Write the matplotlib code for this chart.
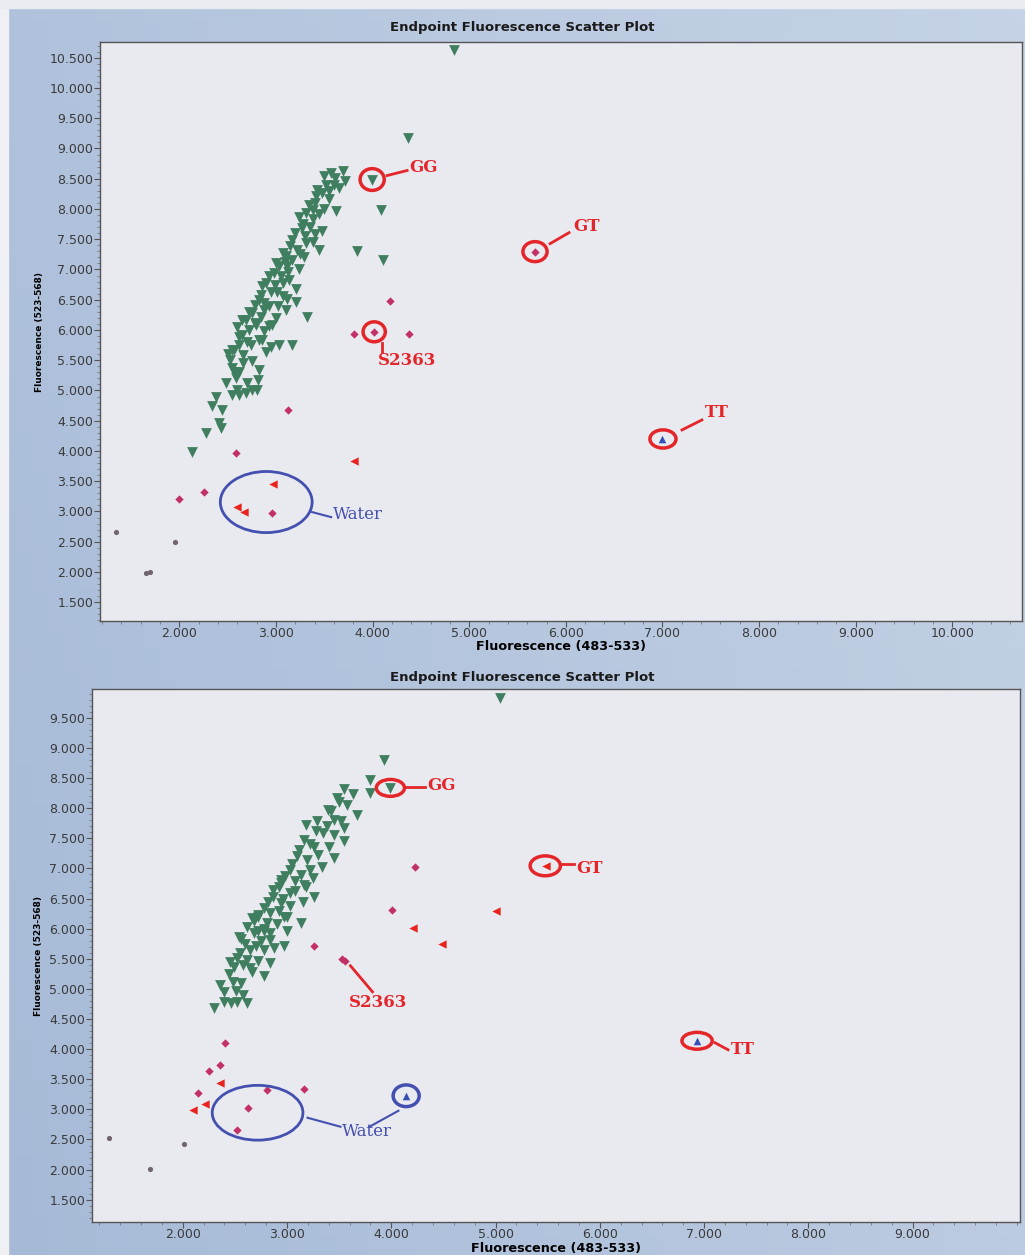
import numpy as np
import matplotlib
matplotlib.use("Agg")
import matplotlib.pyplot as plt
from matplotlib.patches import Ellipse, Rectangle
from matplotlib.colors import LinearSegmentedColormap
from matplotlib.ticker import FormatStrFormatter, AutoMinorLocator, MultipleLocator

# === Top panel data ===
top_green_x = [3.57, 3.69, 3.72, 3.52, 3.48, 3.62, 3.41, 3.31, 3.24, 3.38, 3.48, 3.17, 3.31, 3.45,
               3.07, 3.17, 3.03, 3.24, 2.93, 3.14, 2.86, 3.21, 3.21, 2.83, 2.93, 2.75, 3.32, 2.69,
               2.96, 2.65, 2.83, 3.03, 3.17, 2.55, 2.90, 2.65, 2.72, 2.93, 2.62, 2.86, 2.57, 2.52,
               2.75, 2.55, 2.83, 2.59, 2.81, 2.69, 2.55, 2.38, 2.34, 2.44, 2.41, 2.43, 2.28, 2.13,
               3.61, 3.43, 3.55, 3.34, 3.45, 3.27, 3.40, 3.22, 3.09, 2.99, 3.07, 2.88, 3.10, 2.79,
               3.29, 3.13, 3.01, 3.65, 2.74, 2.66, 2.62, 2.48, 2.62, 2.75,
               3.50, 3.60, 3.55, 3.40, 3.50, 3.38, 3.28, 3.35, 3.20, 3.30, 3.15, 3.25, 3.38, 3.10,
               3.00, 3.12, 2.98, 3.05, 2.90, 3.07, 2.95, 2.85, 3.12, 2.78, 2.88, 3.02, 2.72, 2.85,
               3.00, 2.78, 2.60, 2.88, 2.70, 2.95, 2.62, 2.50, 2.66, 2.58, 2.70, 2.60, 2.80,
               4.84, 4.37, 3.99, 4.09, 3.84, 4.11]
top_green_y = [8.60, 8.62, 8.46, 8.40, 8.27, 7.96, 8.21, 7.94, 7.86, 7.83, 7.63, 7.49, 7.44, 7.33,
               7.28, 7.16, 7.05, 7.00, 6.89, 6.83, 6.72, 6.67, 6.47, 6.50, 6.39, 6.28, 6.22, 6.17,
               6.09, 5.92, 5.84, 5.76, 5.76, 5.67, 5.64, 6.17, 6.00, 6.06, 5.89, 5.84, 5.67, 5.51,
               5.48, 5.37, 5.34, 5.21, 5.18, 4.96, 4.93, 4.90, 4.75, 4.68, 4.46, 4.38, 4.30, 3.99,
               8.51, 8.32, 8.16, 8.07, 7.91, 7.69, 7.58, 7.33, 7.13, 6.75, 6.57, 6.33, 6.33, 6.09,
               7.20, 6.96, 6.63, 8.35, 5.76, 5.59, 5.31, 5.13, 4.93, 5.01,
               8.55, 8.40, 8.30, 8.10, 8.00, 7.98, 7.75, 7.70, 7.60, 7.55, 7.38, 7.25, 7.45, 7.22,
               7.10, 7.05, 6.95, 6.90, 6.78, 6.78, 6.62, 6.58, 6.52, 6.42, 6.45, 6.40, 6.30, 6.22,
               6.20, 6.12, 6.05, 5.98, 5.80, 5.72, 5.76, 5.60, 5.45, 5.30, 5.12, 5.00, 5.00,
               10.62, 9.18, 8.48, 7.99, 7.30, 7.16]
top_mag_x = [4.18, 3.81, 4.02, 4.38, 3.13, 2.59, 2.26, 2.00, 2.96, 5.68]
top_mag_y = [6.48, 5.94, 5.97, 5.94, 4.68, 3.97, 3.33, 3.20, 2.98, 7.29]
top_red_x = [3.81, 2.97, 2.60, 2.67]
top_red_y = [3.84, 3.45, 3.08, 2.99]
top_gray_x = [1.35, 1.96, 1.66, 1.70]
top_gray_y = [2.66, 2.50, 1.98, 2.00]
top_blue_x = [7.00]
top_blue_y = [4.20]
top_xticks = [2, 3, 4, 5, 6, 7, 8, 9, 10]
top_yticks = [1.5, 2, 2.5, 3, 3.5, 4, 4.5, 5, 5.5, 6, 6.5, 7, 7.5, 8, 8.5, 9, 9.5, 10, 10.5]

# === Bottom panel data ===
bot_green_x = [3.55, 3.63, 3.48, 3.67, 3.39, 3.45, 3.55, 3.18, 3.29, 3.35, 3.55, 3.16, 3.26, 3.45,
               3.10, 3.19, 3.34, 3.03, 3.13, 2.94, 3.18, 2.87, 3.03, 3.26, 2.87, 2.94, 3.03, 2.72,
               2.84, 3.00, 3.13, 2.68, 2.81, 2.72, 2.84, 3.00, 2.54, 2.94, 3.16, 2.72, 2.97, 2.68,
               2.78, 2.56, 2.75, 2.84, 2.97, 2.65, 2.78, 2.52, 2.62, 2.72, 2.84, 2.49, 2.65, 2.78,
               2.36, 2.56, 2.51, 2.40, 2.52, 2.62, 2.30, 2.46,
               3.50, 3.58, 3.42, 3.52, 3.38, 3.28, 3.45, 3.22, 3.40, 3.12, 3.30, 3.05, 3.22, 2.98,
               3.08, 3.25, 2.92, 3.08, 2.82, 2.96, 3.15, 2.78, 2.92, 2.66, 2.90, 2.62, 2.78, 2.60,
               2.70, 2.88, 2.55, 2.45, 2.58, 2.44, 2.66, 2.48, 2.40, 2.58,
               5.04, 3.93, 3.80, 3.80, 3.99]
bot_green_y = [8.32, 8.24, 8.17, 7.89, 7.97, 7.81, 7.67, 7.72, 7.78, 7.59, 7.45, 7.48, 7.36, 7.17,
               7.20, 7.14, 7.03, 6.98, 6.89, 6.81, 6.70, 6.65, 6.59, 6.53, 6.53, 6.42, 6.37, 6.23,
               6.26, 6.20, 6.09, 6.12, 6.09, 5.96, 5.93, 5.96, 5.87, 6.76, 6.73, 6.20, 6.20, 5.93,
               5.96, 5.83, 5.79, 5.82, 5.71, 5.65, 5.65, 5.51, 5.48, 5.46, 5.43, 5.37, 5.35, 5.21,
               5.07, 5.10, 4.96, 4.79, 4.79, 4.77, 4.69, 4.77,
               8.10, 8.05, 7.95, 7.78, 7.70, 7.62, 7.55, 7.40, 7.35, 7.30, 7.22, 7.08, 6.98, 6.88,
               6.80, 6.85, 6.70, 6.62, 6.45, 6.50, 6.45, 6.35, 6.30, 6.18, 6.08, 6.02, 6.00, 5.75,
               5.72, 5.68, 5.60, 5.45, 5.40, 5.25, 5.28, 5.12, 4.95, 4.90,
               9.83, 8.80, 8.47, 8.25, 8.33]
bot_mag_x = [4.23, 4.01, 3.26, 3.53, 3.56, 2.41, 2.36, 2.25, 2.15, 2.63, 2.81, 3.16, 2.52]
bot_mag_y = [7.03, 6.31, 5.72, 5.50, 5.46, 4.11, 3.74, 3.64, 3.28, 3.03, 3.33, 3.34, 2.66]
bot_red_x = [5.48, 5.00, 4.21, 4.49, 2.36, 2.21, 2.10]
bot_red_y = [7.04, 6.30, 6.01, 5.74, 3.43, 3.09, 2.99]
bot_gray_x = [1.29, 2.01, 1.69]
bot_gray_y = [2.52, 2.43, 2.01]
bot_blue_x = [6.93, 4.14]
bot_blue_y = [4.14, 3.23]
bot_xticks = [2, 3, 4, 5, 6, 7, 8, 9]
bot_yticks = [1.5, 2, 2.5, 3, 3.5, 4, 4.5, 5, 5.5, 6, 6.5, 7, 7.5, 8, 8.5, 9, 9.5]

GREEN = '#3f7f5f'
MAGENTA = '#c23067'
RED = '#e8221c'
GRAY = '#6f6470'
BLUE = '#3550b5'
ANN_RED = '#e4262a'
ANN_BLUE = '#4350b0'
SERIF = ['DejaVu Serif']

fig = plt.figure(figsize=(10.25, 12.55), dpi=100)
fig.patch.set_facecolor('#b0c2dc')

# blue-gray gradient backdrop
bg = fig.add_axes([0, 0, 1, 1], zorder=-10)
bg.set_axis_off()
gx, gy = np.meshgrid(np.linspace(0, 1, 64), np.linspace(0, 1, 64))
bg_cmap = LinearSegmentedColormap.from_list('bg', ['#a6bad7', '#c6d3e6'])
bg.imshow(0.55 * gx + 0.25 * gy, cmap=bg_cmap, extent=[0, 1, 0, 1], aspect='auto', origin='lower')
bg.add_patch(Rectangle((0, 0), 8 / 1025, 1, color='#eef0f4'))
bg.add_patch(Rectangle((0, 1 - 8 / 1255), 1, 8 / 1255, color='#e8ebf0'))
bg.set_xlim(0, 1)
bg.set_ylim(0, 1)


def style_axes(ax, xlim, ylim, xticks, yticks, xlabel_y):
    ax.set_facecolor('#e9e9f0')
    ax.set_xlim(*xlim)
    ax.set_ylim(*ylim)
    ax.set_xticks(xticks)
    ax.set_yticks(yticks)
    ax.xaxis.set_major_formatter(FormatStrFormatter('%.3f'))
    ax.yaxis.set_major_formatter(FormatStrFormatter('%.3f'))
    ax.xaxis.set_minor_locator(AutoMinorLocator(5))
    ax.yaxis.set_minor_locator(MultipleLocator(0.1))
    ax.tick_params(which='major', length=4, width=0.8, color='#555555', labelsize=9,
                   labelcolor='#3a3a3a', pad=1)
    ax.tick_params(axis='x', which='major', pad=0.5)
    ax.tick_params(which='minor', length=2, width=0.6, color='#777777')
    for s in ax.spines.values():
        s.set_color('#555555')
        s.set_linewidth(1.0)
    ax.set_xlabel('Fluorescence (483-533)', fontsize=9.2, fontweight='bold', va='center')
    ax.xaxis.set_label_coords(0.5, xlabel_y)
    ax.set_ylabel('Fluorescence (523-568)', fontsize=6.5, fontweight='bold',
                  family=['Liberation Sans Narrow', 'DejaVu Sans'], labelpad=4)


def draw_points(ax, gx, gy, mx, my, rx, ry, grx, gry, bx, by):
    ax.scatter(gx, gy, marker='v', s=60, color=GREEN, linewidths=0, zorder=3)
    ax.scatter(mx, my, marker='D', s=18, color=MAGENTA, linewidths=0, zorder=3)
    ax.scatter(rx, ry, marker='<', s=36, color=RED, linewidths=0, zorder=3)
    ax.scatter(grx, gry, marker='o', s=14, color=GRAY, linewidths=0, zorder=3)
    ax.scatter(bx, by, marker='^', s=30, color=BLUE, linewidths=0, zorder=3)


def ring(ax, x, y, w, h, color, lw=2.5):
    ax.add_patch(Ellipse((x, y), w, h, fill=False, edgecolor=color, linewidth=lw, zorder=4))


def label(ax, x, y, text, color, ha='left', size=12):
    ax.text(x, y, text, color=color, fontsize=size, fontweight='bold', family=SERIF,
            ha=ha, va='center', zorder=5)


# === Top panel ===
ax1 = fig.add_axes([100 / 1025, 1 - 621 / 1255, 922 / 1025, 579 / 1255])
style_axes(ax1, (1.18, 10.72), (1.19, 10.76), top_xticks, top_yticks, -0.044)
draw_points(ax1, top_green_x, top_green_y, top_mag_x, top_mag_y, top_red_x, top_red_y,
            top_gray_x, top_gray_y, top_blue_x, top_blue_y)

ring(ax1, 3.996, 8.487, 0.25, 0.36, ANN_RED)
ax1.plot([4.151, 4.358], [8.553, 8.636], color=ANN_RED, lw=2)
label(ax1, 4.378, 8.685, 'GG', ANN_RED)
ring(ax1, 5.681, 7.295, 0.25, 0.33, ANN_RED)
ax1.plot([5.837, 6.033], [7.427, 7.609], color=ANN_RED, lw=2)
label(ax1, 6.074, 7.709, 'GT', ANN_RED)
ring(ax1, 7.005, 4.199, 0.27, 0.30, ANN_RED)
ax1.plot([7.202, 7.408], [4.348, 4.513], color=ANN_RED, lw=2)
label(ax1, 7.439, 4.629, 'TT', ANN_RED)
ring(ax1, 4.017, 5.970, 0.23, 0.33, ANN_RED)
ax1.plot([4.099, 4.099], [5.788, 5.639], color=ANN_RED, lw=2)
label(ax1, 4.36, 5.50, 'S2363', ANN_RED, ha='center')
ring(ax1, 2.900, 3.156, 0.95, 1.01, ANN_BLUE, lw=2)
ax1.plot([3.375, 3.572], [2.990, 2.907], color=ANN_BLUE, lw=1.5)
ax1.text(3.593, 2.95, 'Water', color=ANN_BLUE, fontsize=12, family=SERIF,
         ha='left', va='center', zorder=5)

fig.text(522 / 1025, 1 - 28 / 1255, 'Endpoint Fluorescence Scatter Plot', fontsize=9.5,
         fontweight='bold', ha='center', va='center', color='#1a1a1a')

# === Bottom panel ===
ax2 = fig.add_axes([92 / 1025, 1 - 1222 / 1255, 928 / 1025, 533 / 1255])
style_axes(ax2, (1.13, 10.03), (1.13, 9.98), bot_xticks, bot_yticks, -0.0495)
draw_points(ax2, bot_green_x, bot_green_y, bot_mag_x, bot_mag_y, bot_red_x, bot_red_y,
            bot_gray_x, bot_gray_y, bot_blue_x, bot_blue_y)

ring(ax2, 3.992, 8.338, 0.27, 0.28, ANN_RED)
ax2.plot([4.126, 4.328], [8.355, 8.355], color=ANN_RED, lw=2)
label(ax2, 4.347, 8.371, 'GG', ANN_RED)
ring(ax2, 5.477, 7.044, 0.29, 0.33, ANN_RED)
ax2.plot([5.630, 5.755], [7.077, 7.077], color=ANN_RED, lw=2)
label(ax2, 5.774, 6.994, 'GT', ANN_RED)
ring(ax2, 6.933, 4.139, 0.29, 0.28, ANN_RED)
ax2.plot([7.105, 7.230], [4.106, 3.990], color=ANN_RED, lw=2)
label(ax2, 7.259, 3.990, 'TT', ANN_RED)
ax2.plot([3.609, 3.820], [5.384, 4.952], color=ANN_RED, lw=2)
label(ax2, 3.877, 4.77, 'S2363', ANN_RED, ha='center')
ring(ax2, 2.718, 2.944, 0.87, 0.91, ANN_BLUE, lw=2)
ring(ax2, 4.143, 3.226, 0.25, 0.36, ANN_BLUE, lw=2.5)
ax2.plot([3.197, 3.513], [2.861, 2.712], color=ANN_BLUE, lw=1.5)
ax2.plot([3.791, 4.069], [2.712, 2.977], color=ANN_BLUE, lw=1.5)
ax2.text(3.523, 2.629, 'Water', color=ANN_BLUE, fontsize=12, family=SERIF,
         ha='left', va='center', zorder=5)

fig.text(522 / 1025, 1 - 677 / 1255, 'Endpoint Fluorescence Scatter Plot', fontsize=9.5,
         fontweight='bold', ha='center', va='center', color='#1a1a1a')

plt.savefig('out.png', dpi=100)
